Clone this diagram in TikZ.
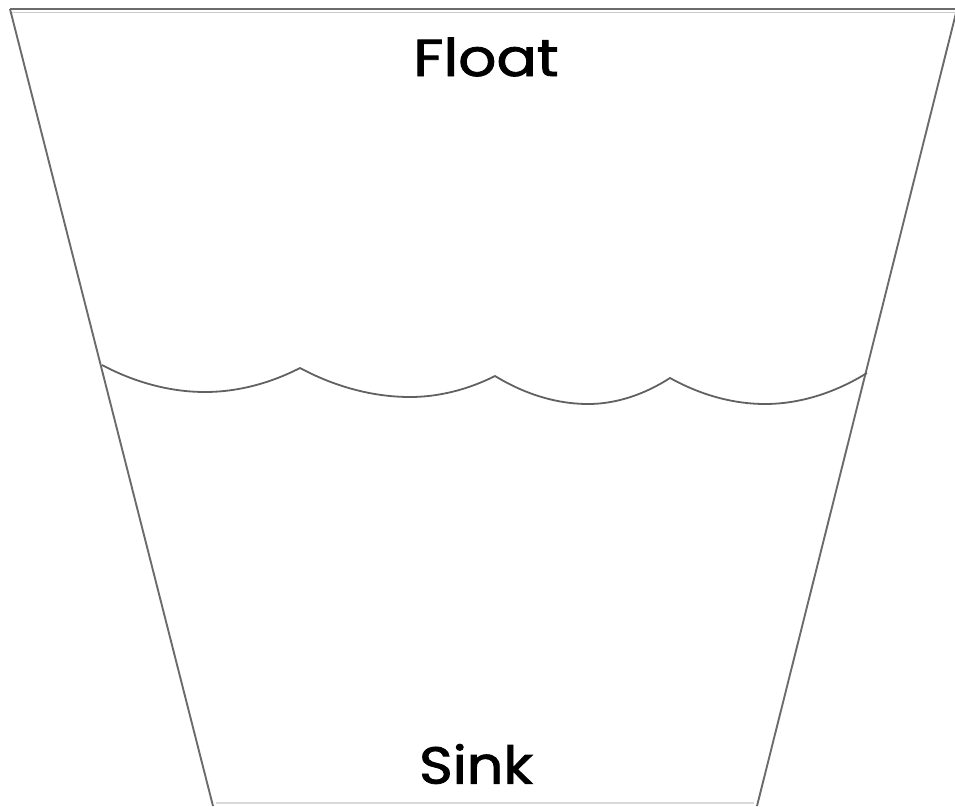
\documentclass[tikz,border=0pt]{standalone}
\usepackage{fontspec}
\setmainfont{Poppins}
\newfontfamily\labelfont[FakeBold=1.6]{Poppins}
\usetikzlibrary{calc}
\begin{document}
\begin{tikzpicture}[x=1pt,y=-1pt,
  cupline/.style={draw=black!58,line width=1.9pt},
  wave/.style={draw=black!62,line width=1.8pt},
  label/.style={font=\labelfont\fontsize{52}{60}\selectfont,inner sep=0pt,text=black}]
\useasboundingbox (0,0) rectangle (955,806);
\coordinate (tl) at (10,9);
\coordinate (tr) at (957,9);
\coordinate (bl) at (213,806);
\coordinate (br) at (757,806);
\draw[cupline] (tl) -- (tr);
\draw[draw=black!20,line width=1pt] (10,12) -- (955,12);
\draw[cupline] (tl) -- (bl);
\draw[cupline] (tr) -- (br);
\draw[draw=black!15,line width=1.2pt] ($(bl)+(3,-3)$) -- ($(br)+(-3,-3)$);
% water surface
\coordinate (w0) at (102,365);
\coordinate (w1) at (300,368);
\coordinate (w2) at (495,376);
\coordinate (w3) at (670,378);
\coordinate (w4) at (867,373);
\draw[wave] (w0) parabola bend (205,392) (w1)
  parabola bend (410,397) (w2)
  parabola bend (588,404) (w3)
  parabola bend (765,404) (w4);
\node[label,xscale=1.15] (float) at (486,57) {Float};
\node[label,xscale=1.1] (sink) at (476,764) {Sink};
\end{tikzpicture}
\end{document}
